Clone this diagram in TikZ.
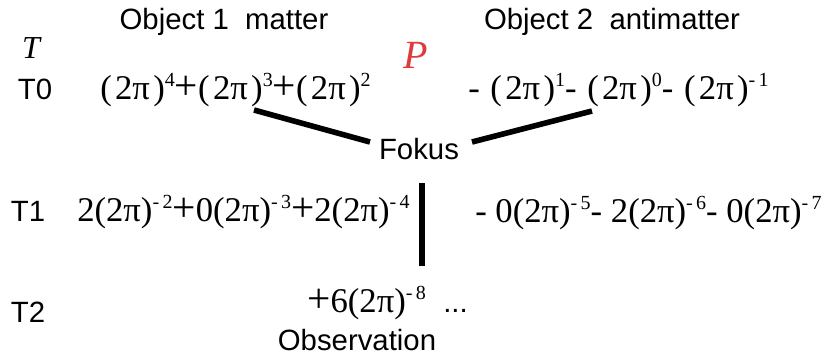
\documentclass[tikz,border=0pt]{standalone}
\usepackage{fontspec}
\setmainfont{Liberation Serif}
\setsansfont{Liberation Sans}
\newcommand\Pl{{\fontsize{31}{31}\selectfont+}}
\newcommand\Sp[1]{\raisebox{9.5pt}{\fontsize{15}{15}\selectfont#1}}
\newcommand\Gr[1]{(\kern#1 2π\kern#1)}
\newcommand\Ng[1]{-\kern2.5pt#1}
\newcommand\Mn{-\kern8pt}
\tikzset{
  lab/.style={font=\sffamily\fontsize{22}{26}\selectfont, inner sep=0pt, anchor=base},
  frm/.style={font=\fontsize{26}{30}\selectfont, inner sep=0pt, anchor=base west},
  conn/.style={line width=4.2pt},
}
\begin{document}
\begin{tikzpicture}[x=0.75pt,y=-0.75pt]
\useasboundingbox (0,0) rectangle (825,358);
\node[lab] (obj1) at (224,29) {Object 1\ \ matter};
\node[lab] (obj2) at (612,29) {Object 2\ \ antimatter};
\node[inner sep=0pt, anchor=base, font=\itshape\fontsize{24}{28}\selectfont] (T) at (31,58) {T};
\node[inner sep=0pt, anchor=base, font=\itshape\fontsize{30}{34}\selectfont, text={rgb,255:red,220;green,60;blue,60}] (P) at (416,68) {P};
\node[lab] (T0) at (35,99) {T0};
\node[frm] (f0L) at (100,99) {\Gr{2.5pt}\Sp{4}\Pl\Gr{2.5pt}\Sp{3}\Pl\Gr{2.5pt}\Sp{2}};
\node[frm] (f0R) at (468,99) {\Mn\Gr{2.5pt}\Sp{1}\Mn\Gr{2.5pt}\Sp{0}\Mn\Gr{2.5pt}\Sp{\Ng{1}}};
\node[lab] (fokus) at (419,159) {Fokus};
\node[lab] (T1) at (28,221) {T1};
\node[frm] (f1L) at (77,221) {2\Gr{0pt}\Sp{\Ng{2}}\Pl 0\Gr{0pt}\Sp{\Ng{3}}\Pl 2\Gr{0pt}\Sp{\Ng{4}}};
\node[frm] (f1R) at (475,222) {-\ 0\Gr{0pt}\Sp{\Ng{5}}-\ 2\Gr{0pt}\Sp{\Ng{6}}-\ 0\Gr{0pt}\Sp{\Ng{7}}};
\node[lab] (T2) at (28,322) {T2};
\node[frm] (f2) at (307,312) {\Pl 6\Gr{0pt}\Sp{\Ng{8}}};
\node[lab, anchor=base west] (dots) at (443,312) {...};
\node[lab] (obs) at (357,350) {Observation};
\coordinate (a1) at (254,110);
\coordinate (a2) at (370,142);
\coordinate (b1) at (472,142);
\coordinate (b2) at (592,111);
\coordinate (c1) at (422,183);
\coordinate (c2) at (422,266);
\draw[conn] (a1) -- (a2);
\draw[conn] (b1) -- (b2);
\draw[conn] (c1) -- (c2);
\end{tikzpicture}
\end{document}
